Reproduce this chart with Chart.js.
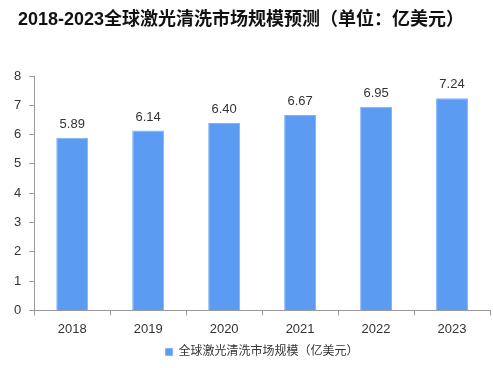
<!DOCTYPE html>
<html>
<head>
<meta charset="utf-8">
<script src="https://cdn.jsdelivr.net/npm/chart.js@4"></script>
<style>
  html, body { margin: 0; padding: 0; background: #fff; }
  #wrap { width: 493px; height: 368px; }
</style>
</head>
<body>
<div id="wrap"><canvas id="grafico"></canvas></div>
<script>
const years = ['2018', '2019', '2020', '2021', '2022', '2023'];
const marketSize = [5.89, 6.14, 6.40, 6.67, 6.95, 7.24];
const yTicks = [0, 1, 2, 3, 4, 5, 6, 7, 8];
const seriesName = '全球激光清洗市场规模（亿美元）';
const titleText = '2018-2023全球激光清洗市场规模预测（单位：亿美元）';

const fontFam = '"Liberation Sans", Arial, "Noto Sans CJK SC", sans-serif';

// title drawn by hand so it can sit a bit right of the canvas edge
const titleLeft = {
    id: 'titleLeft',
    afterDraw(chart) {
        const ctx = chart.ctx;
        ctx.save();
        ctx.font = 'bold 18px ' + fontFam;
        ctx.fillStyle = '#111';
        ctx.textAlign = 'left';
        ctx.textBaseline = 'middle';
        ctx.fillText(titleText, 18, 20);
        ctx.restore();
    }
};

// labels above each bar
const barLabels = {
    id: 'barLabels',
    afterDatasetsDraw(chart) {
        const ctx = chart.ctx;
        const meta = chart.getDatasetMeta(0);
        ctx.save();
        ctx.font = '13px ' + fontFam;
        ctx.fillStyle = '#333';
        ctx.textAlign = 'center';
        ctx.textBaseline = 'bottom';
        meta.data.forEach((bar, i) => {
            ctx.fillText(marketSize[i].toFixed(2), bar.x, bar.y - 7);
        });
        ctx.restore();
    }
};

const ctx = document.getElementById('grafico').getContext('2d');
const chart = new Chart(ctx, {
    type: 'bar',
    data: {
        labels: years,
        datasets: [{
            label: seriesName,
            data: marketSize,
            backgroundColor: '#5b9cf2',
            borderColor: '#7fb3f7',
            borderWidth: 1,
            barPercentage: 0.42,
            categoryPercentage: 1
        }]
    },
    options: {
        responsive: true,
        maintainAspectRatio: false,
        animation: false,
        layout: { padding: { left: 6, right: 3, top: 76, bottom: 0 } },
        plugins: {
            title: { display: false },
            legend: {
                position: 'bottom',
                fullSize: false,
                labels: {
                    boxWidth: 7,
                    boxHeight: 7,
                    color: '#333',
                    font: { family: fontFam, size: 12 },
                    padding: 3
                }
            },
            tooltip: { enabled: false }
        },
        scales: {
            y: {
                min: 0,
                max: 8,
                afterBuildTicks: axis => { axis.ticks = yTicks.map(v => ({ value: v })); },
                grid: { drawOnChartArea: false, drawTicks: true, tickLength: 5, color: '#999' },
                border: { color: '#999' },
                ticks: { color: '#333', font: { family: fontFam, size: 13 }, padding: 8 }
            },
            x: {
                grid: { drawOnChartArea: false, drawTicks: true, tickLength: 5, color: '#999', offset: true },
                border: { color: '#999' },
                ticks: { color: '#333', font: { family: fontFam, size: 13 }, padding: 6 }
            }
        }
    },
    plugins: [barLabels, titleLeft]
});
</script>
</body>
</html>
